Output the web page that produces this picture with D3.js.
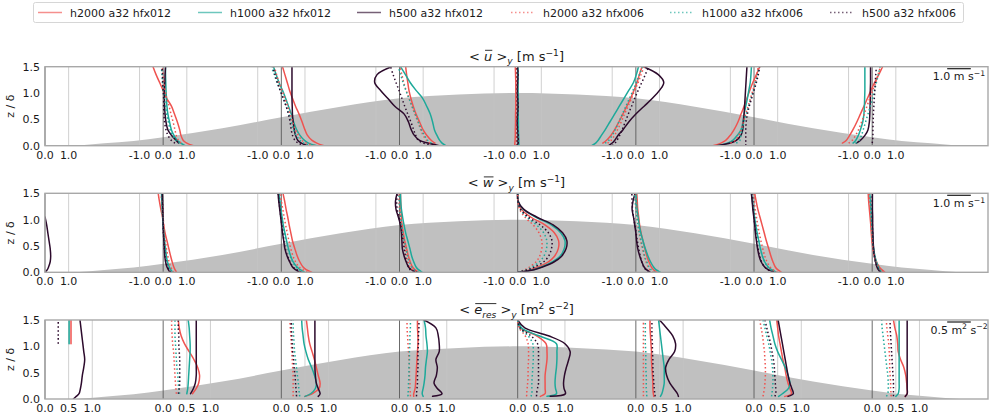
<!DOCTYPE html>
<html><head><meta charset="utf-8">
<script src="https://cdn.jsdelivr.net/npm/d3@7"></script>
<style>body{margin:0;background:#fff}svg text{font-family:"DejaVu Sans",sans-serif;fill:#1a1a1a}</style>
</head><body><svg id="chart" width="990" height="414"></svg>
<script>
// vertical sample levels (z / delta) shared by every profile
const zLevels = [0, 0.05, 0.1, 0.2, 0.3, 0.45, 0.6, 0.75, 0.9, 1.05, 1.2, 1.35, 1.5];
// streamwise station positions (profile origins)
const stations = [-4, -3, -2, -1, 0, 1, 2, 3];
const runNames = ["h2000 a32 hfx012", "h1000 a32 hfx012", "h500 a32 hfx012",
                  "h2000 a32 hfx006", "h1000 a32 hfx006", "h500 a32 hfx006"];
// hill silhouette
const hillX = [-3.74, -3.5, -3.25, -3, -2.5, -2, -1.5, -1, -0.5, 0, 0.5, 1, 1.5, 2, 2.5, 3, 3.25, 3.5, 3.74];
const hillZ = [0, 0.045, 0.09, 0.16, 0.33, 0.54, 0.74, 0.90, 0.97, 1.0, 0.97, 0.90, 0.74, 0.54, 0.33, 0.16, 0.09, 0.045, 0];
const zTicks = [0, 0.5, 1.0, 1.5];
const zTickLabels = ["0.0", "0.5", "1.0", "1.5"];
const velTicks = [-1, 0, 1];
const velTickLabels = ["-1.0", "0.0", "1.0"];
const tkeTicks = [0, 0.5, 1];
const tkeTickLabels = ["0.0", "0.5", "1.0"];
const n = null;

// <u>_y profiles, one row per station, values bottom to top
const u_h2000_012 = [
  [n,n,n,n,n,n,n,n,n,n,n,n,n],
  [1.28,1.0,0.85,0.75,0.7,0.6,0.48,0.35,0.15,0.0,-0.15,-0.3,-0.43],
  [1.8,1.5,1.3,1.1,1.0,0.88,0.75,0.6,0.47,0.35,0.25,0.15,0.05],
  [n,1.5,1.35,1.15,1.0,0.85,0.7,0.58,0.48,0.4,0.35,0.3,0.26],
  [-0.12,-0.12,-0.11,-0.1,-0.1,-0.09,-0.09,-0.08,-0.08,-0.08,-0.08,-0.09,-0.1],
  [n,-1.4,-1.25,-1.05,-0.9,-0.72,-0.55,-0.38,-0.22,-0.08,0.05,0.15,0.26],
  [-1.74,-1.4,-1.2,-1.0,-0.85,-0.68,-0.55,-0.42,-0.3,-0.18,-0.05,0.1,0.24],
  [n,-1.26,-1.1,-0.95,-0.82,-0.65,-0.5,-0.35,-0.2,-0.05,0.1,0.28,0.44]];
const u_h1000_012 = [
  [n,n,n,n,n,n,n,n,n,n,n,n,n],
  [0.92,0.75,0.6,0.45,0.35,0.27,0.2,0.16,0.14,0.12,0.11,0.1,0.1],
  [1.5,1.15,0.98,0.78,0.65,0.52,0.42,0.3,0.18,0.05,-0.1,-0.22,-0.33],
  [1.96,1.8,1.7,1.58,1.48,1.4,1.3,1.15,0.98,0.7,0.45,0.25,0.04],
  [0.05,0.05,0.04,0.04,0.03,0.03,0.02,0.02,0.02,0.01,0.01,0.0,0.0],
  [-1.87,-1.7,-1.6,-1.45,-1.3,-1.1,-0.9,-0.7,-0.5,-0.3,-0.1,0.02,0.11],
  [-1.53,-1.1,-0.9,-0.7,-0.55,-0.47,-0.42,-0.35,-0.28,-0.22,-0.16,-0.13,-0.11],
  [n,-0.81,-0.7,-0.58,-0.5,-0.4,-0.35,-0.33,-0.32,-0.31,-0.31,-0.31,-0.31]];
const u_h500_012 = [
  [n,n,n,n,n,n,n,n,n,n,n,n,n],
  [n,0.65,0.55,0.35,0.2,0.12,0.08,0.06,0.05,0.05,0.07,0.08,0.1],
  [1.1,0.85,0.7,0.6,0.55,0.5,0.47,0.46,0.45,0.45,0.45,0.45,0.45],
  [1.67,1.2,0.85,0.62,0.5,0.38,0.2,-0.2,-0.5,-0.8,-1.05,-0.95,-0.34],
  [0.0,0.02,0.03,0.02,0.0,-0.02,0.0,0.02,0.0,-0.01,0.0,0.02,0.0],
  [-1.15,-1.0,-0.9,-0.75,-0.55,-0.3,0.0,0.35,0.7,1.0,1.18,0.95,0.33],
  [-1.6,-1.0,-0.75,-0.55,-0.48,-0.45,-0.42,-0.4,-0.38,-0.36,-0.34,-0.32,-0.3],
  [n,-0.67,-0.5,-0.3,-0.18,-0.12,-0.1,-0.09,-0.08,-0.08,-0.07,-0.07,-0.07]];
const u_h2000_006 = [
  [n,n,n,n,n,n,n,n,n,n,n,n,n],
  [n,0.75,0.65,0.55,0.5,0.42,0.33,0.25,0.15,0.08,0.03,0.0,-0.05],
  [1.4,1.05,0.88,0.72,0.6,0.48,0.38,0.27,0.15,0.03,-0.1,-0.2,-0.3],
  [n,1.3,1.15,1.0,0.9,0.78,0.65,0.52,0.4,0.28,0.18,0.1,0.02],
  [-0.05,-0.05,-0.05,-0.04,-0.04,-0.04,-0.03,-0.03,-0.03,-0.03,-0.04,-0.04,-0.05],
  [n,-1.2,-1.05,-0.9,-0.78,-0.62,-0.48,-0.33,-0.18,-0.05,0.1,0.22,0.35],
  [n,-1.0,-0.8,-0.65,-0.55,-0.45,-0.35,-0.25,-0.15,-0.05,0.05,0.12,0.18],
  [n,-1.0,-0.85,-0.7,-0.58,-0.45,-0.33,-0.22,-0.1,0.02,0.15,0.25,0.35]];
const u_h1000_006 = [
  [n,n,n,n,n,n,n,n,n,n,n,n,n],
  [n,0.7,0.55,0.4,0.3,0.22,0.15,0.1,0.05,0.0,-0.03,-0.05,-0.08],
  [1.3,0.95,0.8,0.62,0.52,0.42,0.32,0.2,0.08,-0.05,-0.18,-0.3,-0.42],
  [n,1.35,1.2,1.05,0.93,0.8,0.67,0.53,0.4,0.27,0.15,0.05,-0.05],
  [0.02,0.02,0.02,0.02,0.02,0.02,0.01,0.01,0.01,0.01,0.01,0.01,0.01],
  [n,-1.3,-1.15,-1.0,-0.88,-0.72,-0.57,-0.42,-0.27,-0.12,0.02,0.15,0.28],
  [n,-0.75,-0.6,-0.55,-0.5,-0.42,-0.33,-0.23,-0.13,-0.03,0.07,0.15,0.22],
  [n,-0.7,-0.55,-0.45,-0.38,-0.28,-0.18,-0.08,0.02,0.1,0.18,0.26,0.33]];
const u_h500_006 = [
  [n,n,n,n,n,n,n,n,n,n,n,n,n],
  [n,0.5,0.35,0.2,0.12,0.06,0.03,0.02,0.02,0.0,-0.02,-0.03,-0.05],
  [1.0,0.72,0.58,0.47,0.42,0.37,0.3,0.2,0.08,-0.05,-0.17,-0.27,-0.37],
  [1.4,1.0,0.8,0.68,0.6,0.48,0.35,0.22,0.1,-0.02,-0.15,-0.27,-0.38],
  [-0.02,-0.02,-0.02,-0.02,-0.02,-0.02,-0.02,-0.02,-0.02,-0.02,-0.02,-0.02,-0.02],
  [-1.0,-0.88,-0.8,-0.68,-0.58,-0.45,-0.32,-0.18,-0.05,0.1,0.25,0.4,0.54],
  [-0.35,-0.35,-0.35,-0.35,-0.35,-0.33,-0.28,-0.2,-0.1,0.0,0.1,0.18,0.24],
  [n,0.0,0.02,0.03,0.03,0.04,0.05,0.07,0.09,0.11,0.13,0.15,0.18]];

// <w>_y profiles
const w_h2000_012 = [
  [n,n,n,n,n,n,n,n,n,n,n,n,n],
  [0.57,0.5,0.45,0.38,0.32,0.24,0.16,0.08,0.02,-0.03,-0.1,-0.16,-0.21],
  [1.28,1.05,0.92,0.78,0.68,0.57,0.47,0.4,0.33,0.27,0.2,0.14,0.07],
  [0.82,0.65,0.55,0.45,0.38,0.3,0.22,0.16,0.11,0.08,0.06,0.05,0.04],
  [0,0.55,0.85,1.3,1.55,1.72,1.73,1.55,1.15,0.55,0.15,0.01,0],
  [0.89,0.75,0.66,0.55,0.47,0.38,0.3,0.22,0.16,0.12,0.08,0.06,0.04],
  [1.16,1.0,0.9,0.8,0.72,0.62,0.52,0.43,0.34,0.25,0.16,0.09,0.03],
  [0.54,0.4,0.3,0.18,0.1,0.03,-0.01,-0.04,-0.06,-0.09,-0.12,-0.15,-0.17]];
const w_h1000_012 = [
  [n,n,n,n,n,n,n,n,n,n,n,n,n],
  [0.4,0.32,0.26,0.18,0.14,0.1,0.06,0.03,0.0,-0.02,-0.04,-0.06,-0.07],
  [0.99,0.8,0.66,0.5,0.4,0.3,0.22,0.15,0.08,0.03,-0.02,-0.06,-0.1],
  [0.96,0.8,0.7,0.6,0.52,0.44,0.35,0.26,0.19,0.13,0.08,0.05,0.04],
  [0,0.65,1.0,1.48,1.78,1.97,2.0,1.82,1.42,0.75,0.22,0.02,0],
  [1.04,0.85,0.75,0.62,0.52,0.4,0.3,0.21,0.14,0.09,0.05,0.02,0.01],
  [0.95,0.75,0.6,0.45,0.36,0.27,0.2,0.13,0.07,0.02,-0.03,-0.07,-0.11],
  [0.4,0.32,0.26,0.18,0.12,0.06,0.03,0.01,-0.01,-0.04,-0.06,-0.08,-0.1]];
const w_h500_012 = [
  [0,0.1,0.15,0.22,0.24,0.22,0.17,0.12,0.07,0.0,n,n,n],
  [0.28,0.22,0.16,0.1,0.07,0.05,0.03,0.01,0.0,-0.01,-0.02,-0.03,-0.04],
  [0.78,0.6,0.47,0.35,0.25,0.15,0.1,0.05,0.01,-0.03,-0.07,-0.11,-0.14],
  [0.75,0.5,0.38,0.28,0.2,0.12,0.1,0.08,0.04,-0.05,-0.15,-0.17,-0.1],
  [0,0.7,1.05,1.55,1.85,2.05,2.08,1.9,1.5,0.8,0.25,0.02,0],
  [0.61,0.45,0.35,0.25,0.17,0.08,0.03,0.0,-0.05,-0.1,-0.16,-0.12,-0.03],
  [0.88,0.6,0.45,0.3,0.22,0.15,0.1,0.06,0.03,-0.01,-0.05,-0.08,-0.11],
  [0.33,0.26,0.2,0.14,0.1,0.06,0.04,0.03,0.02,0.02,0.01,0.01,0.01]];
const w_h2000_006 = [
  [n,n,n,n,n,n,n,n,n,n,n,n,n],
  [0.45,0.38,0.32,0.25,0.2,0.14,0.09,0.05,0.02,0.0,-0.03,-0.06,-0.09],
  [1.1,0.9,0.75,0.6,0.5,0.4,0.32,0.25,0.18,0.12,0.06,0.0,-0.05],
  [0.7,0.55,0.45,0.36,0.3,0.24,0.17,0.12,0.08,0.04,0.0,-0.02,-0.02],
  [0,0.32,0.5,0.78,0.92,1.02,1.02,0.9,0.65,0.3,0.08,0.01,0],
  [0.75,0.6,0.52,0.43,0.36,0.28,0.2,0.14,0.09,0.05,0.02,0.0,-0.02],
  [1.0,0.8,0.68,0.55,0.46,0.37,0.29,0.22,0.16,0.1,0.05,0.01,-0.03],
  [0.45,0.35,0.27,0.17,0.1,0.04,0.0,-0.02,-0.04,-0.06,-0.08,-0.1,-0.12]];
const w_h1000_006 = [
  [n,n,n,n,n,n,n,n,n,n,n,n,n],
  [0.38,0.3,0.24,0.17,0.12,0.08,0.05,0.02,0.0,-0.02,-0.04,-0.05,-0.06],
  [0.95,0.75,0.62,0.48,0.38,0.28,0.2,0.13,0.07,0.02,-0.03,-0.07,-0.1],
  [0.8,0.62,0.52,0.42,0.35,0.28,0.2,0.14,0.09,0.05,0.01,-0.01,-0.02],
  [0,0.38,0.6,0.92,1.1,1.22,1.23,1.1,0.8,0.38,0.1,0.01,0],
  [0.8,0.65,0.56,0.46,0.38,0.3,0.22,0.15,0.09,0.04,0.0,-0.03,-0.05],
  [0.9,0.7,0.58,0.45,0.36,0.27,0.2,0.14,0.09,0.04,0.0,-0.04,-0.07],
  [0.38,0.3,0.24,0.16,0.1,0.05,0.02,0.0,-0.02,-0.04,-0.05,-0.07,-0.08]];
const w_h500_006 = [
  [n,n,n,n,n,n,n,n,n,n,n,n,n],
  [0.32,0.25,0.18,0.12,0.08,0.05,0.03,0.01,0.0,-0.01,-0.02,-0.03,-0.04],
  [0.85,0.65,0.5,0.37,0.27,0.17,0.11,0.06,0.02,-0.02,-0.06,-0.1,-0.13],
  [0.6,0.45,0.38,0.3,0.25,0.2,0.15,0.1,0.05,-0.02,-0.1,-0.12,-0.08],
  [0,0.45,0.72,1.1,1.3,1.43,1.45,1.3,0.95,0.45,0.12,0.01,0],
  [0.55,0.42,0.34,0.25,0.19,0.12,0.06,0.01,-0.04,-0.1,-0.14,-0.16,-0.17],
  [0.8,0.58,0.45,0.32,0.24,0.17,0.12,0.07,0.03,0.0,-0.03,-0.06,-0.08],
  [0.35,0.27,0.21,0.14,0.09,0.05,0.03,0.02,0.01,0.0,0.0,0.0,0.0]];

// <e_res>_y profiles
const e_h2000_012 = [
  [n,n,n,n,n,n,n,n,n,0.55,0.55,0.55,0.55],
  [n,n,0.62,0.7,0.75,0.77,0.73,0.65,0.55,0.45,0.38,0.34,0.32],
  [n,0.5,0.65,0.8,0.82,0.78,0.74,0.7,0.65,0.6,0.57,0.55,0.53],
  [n,0.3,0.3,0.33,0.34,0.35,0.36,0.37,0.38,0.39,0.39,0.38,0.38],
  [n,0.48,0.58,0.58,0.58,0.58,0.6,0.62,0.62,0.6,0.4,0.06,0],
  [n,0.38,0.37,0.36,0.36,0.35,0.34,0.33,0.33,0.32,0.31,0.3,0.3],
  [n,0.65,0.79,0.76,0.72,0.68,0.65,0.61,0.58,0.55,0.52,0.5,0.48],
  [n,0.7,0.74,0.74,0.73,0.71,0.67,0.6,0.55,0.54,0.52,0.48,0.45]];
const e_h1000_012 = [
  [n,n,n,n,n,n,n,n,n,0.51,0.51,0.51,0.51],
  [n,n,0.5,0.52,0.53,0.54,0.55,0.56,0.57,0.57,0.56,0.55,0.53],
  [n,0.5,0.62,0.72,0.74,0.7,0.64,0.57,0.52,0.48,0.46,0.44,0.43],
  [n,0.5,0.48,0.5,0.52,0.54,0.55,0.57,0.59,0.58,0.56,0.55,0.52],
  [n,0.62,0.82,0.8,0.79,0.8,0.82,0.83,0.83,0.82,0.45,0.08,0],
  [n,0.52,0.55,0.58,0.6,0.6,0.6,0.58,0.56,0.54,0.52,0.5,0.48],
  [n,0.52,0.6,0.73,0.76,0.72,0.66,0.58,0.5,0.44,0.4,0.36,0.33],
  [n,0.5,0.55,0.57,0.57,0.57,0.57,0.57,0.57,0.57,0.57,0.57,0.57]];
const e_h500_012 = [
  [0.6,0.66,0.72,0.75,0.77,0.79,0.82,0.84,0.82,0.8,0.78,0.76,0.74],
  [n,n,0.58,0.64,0.68,0.7,0.7,0.7,0.7,0.7,0.7,0.7,0.7],
  [n,0.78,0.82,0.78,0.74,0.72,0.71,0.71,0.71,0.71,0.71,0.71,0.71],
  [n,0.7,0.9,0.8,0.73,0.78,0.8,0.77,0.84,0.84,0.82,0.77,0.52],
  [n,0.69,1.01,0.98,0.97,0.99,1.03,1.08,1.11,1.0,0.65,0.15,0],
  [n,0.9,0.88,0.8,0.72,0.65,0.63,0.7,0.82,0.84,0.78,0.65,0.5],
  [n,0.72,0.83,0.8,0.76,0.72,0.69,0.66,0.63,0.6,0.57,0.54,0.51],
  [n,0.7,0.74,0.74,0.74,0.74,0.74,0.74,0.74,0.74,0.74,0.74,0.74]];
const e_h2000_006 = [
  [n,n,n,n,n,n,n,n,n,n,n,n,n],
  [n,n,0.28,0.27,0.26,0.25,0.24,0.23,0.22,0.2,0.19,0.18,0.18],
  [n,0.25,0.25,0.25,0.25,0.25,0.24,0.23,0.22,0.21,0.2,0.19,0.18],
  [n,0.23,0.23,0.22,0.22,0.21,0.21,0.2,0.19,0.18,0.17,0.16,0.16],
  [n,0.19,0.19,0.2,0.21,0.22,0.22,0.23,0.23,0.22,0.16,0.03,0],
  [n,0.16,0.16,0.16,0.16,0.16,0.16,0.16,0.16,0.16,0.16,0.16,0.16],
  [n,0.19,0.2,0.22,0.23,0.24,0.24,0.23,0.22,0.2,0.18,0.15,0.12],
  [n,0.4,0.4,0.39,0.39,0.38,0.37,0.37,0.36,0.35,0.33,0.31,0.3]];
const e_h1000_006 = [
  [n,n,n,n,n,n,n,n,n,n,n,n,n],
  [n,n,0.35,0.33,0.32,0.31,0.29,0.28,0.27,0.26,0.25,0.25,0.25],
  [n,0.39,0.38,0.37,0.36,0.34,0.32,0.3,0.28,0.27,0.26,0.25,0.25],
  [n,0.18,0.18,0.19,0.19,0.2,0.2,0.21,0.21,0.22,0.22,0.23,0.23],
  [n,0.28,0.3,0.3,0.3,0.31,0.32,0.33,0.33,0.32,0.22,0.04,0],
  [n,0.23,0.23,0.22,0.22,0.22,0.21,0.21,0.21,0.2,0.2,0.2,0.2],
  [n,0.37,0.38,0.39,0.4,0.4,0.39,0.37,0.34,0.31,0.27,0.23,0.19],
  [n,0.3,0.33,0.34,0.34,0.33,0.31,0.29,0.27,0.25,0.23,0.21,0.2]];
const e_h500_006 = [
  [n,n,n,n,n,n,n,n,n,0.28,0.28,0.28,0.28],
  [n,n,0.32,0.34,0.35,0.35,0.35,0.35,0.34,0.33,0.33,0.32,0.32],
  [n,0.32,0.32,0.31,0.3,0.29,0.27,0.26,0.24,0.23,0.22,0.21,0.21],
  [n,0.36,0.36,0.37,0.38,0.38,0.39,0.39,0.39,0.4,0.4,0.41,0.41],
  [n,0.4,0.4,0.42,0.44,0.44,0.44,0.44,0.44,0.42,0.28,0.05,0],
  [n,0.41,0.4,0.39,0.38,0.37,0.36,0.36,0.35,0.35,0.34,0.34,0.34],
  [n,0.44,0.46,0.46,0.45,0.44,0.43,0.41,0.38,0.35,0.31,0.27,0.23],
  [n,0.45,0.45,0.45,0.45,0.44,0.43,0.42,0.41,0.4,0.39,0.38,0.38]];

const colors = ["#ef5350", "#1ea99a", "#2c0a2c", "#ef5350", "#1ea99a", "#2c0a2c"];
const dashes = [null, null, null, "1.5,2.5", "1.5,2.5", "1.5,2.5"];

const svg = d3.select("#chart");
const axL = 45, axR = 988, axH = 79;
const x = d3.scaleLinear().domain([-4, 3.98]).range([axL, axR]);

const panels = [
  { top: 66.7, factor: 0.2, ticks: velTicks, tickLabels: velTickLabels,
    series: [u_h2000_012, u_h1000_012, u_h500_012, u_h2000_006, u_h1000_006, u_h500_006],
    title: [{t: "< "}, {t: "u", it: 1, ol: 1}, {t: " >"}, {t: "y", it: 1, sub: 1}, {t: " [m s"}, {t: "−1", sup: 1}, {t: "]"}],
    bar: {len: 1.0, parts: [{t: "1.0 m s"}, {t: "−1", sup: 1}]} },
  { top: 193.3, factor: 0.2, ticks: velTicks, tickLabels: velTickLabels,
    series: [w_h2000_012, w_h1000_012, w_h500_012, w_h2000_006, w_h1000_006, w_h500_006],
    title: [{t: "< "}, {t: "w", it: 1, ol: 1}, {t: " >"}, {t: "y", it: 1, sub: 1}, {t: " [m s"}, {t: "−1", sup: 1}, {t: "]"}],
    bar: {len: 1.0, parts: [{t: "1.0 m s"}, {t: "−1", sup: 1}]} },
  { top: 320, factor: 0.4, ticks: tkeTicks, tickLabels: tkeTickLabels,
    series: [e_h2000_012, e_h1000_012, e_h500_012, e_h2000_006, e_h1000_006, e_h500_006],
    title: [{t: "< "}, {t: "e", it: 1, ol: 1}, {t: "res", it: 1, sub: 1, ol: 1}, {t: " >"}, {t: "y", it: 1, sub: 1}, {t: " [m"}, {t: "2", sup: 1}, {t: " s"}, {t: "−2", sup: 1}, {t: "]"}],
    bar: {len: 0.5, parts: [{t: "0.5 m"}, {t: "2", sup: 1}, {t: " s"}, {t: "−2", sup: 1}]} }
];

// rich text with sub/superscripts and optional overlines
function richText(g, parts, px, py, size, anchor) {
  const txt = g.append("text").attr("x", px).attr("y", py)
    .attr("font-size", size).attr("text-anchor", anchor);
  let shift = 0;
  const spans = [];
  parts.forEach(p => {
    const target = p.sub ? size * 0.28 : p.sup ? -size * 0.38 : 0;
    const sp = txt.append("tspan").text(p.t)
      .attr("dy", target - shift)
      .attr("font-size", (p.sub || p.sup) ? size * 0.7 : size)
      .attr("font-style", p.it ? "italic" : "normal");
    shift = target;
    spans.push({sp, p});
  });
  const ol = spans.filter(s => s.p.ol);
  if (ol.length) {
    const first = ol[0].sp.node(), last = ol[ol.length - 1].sp.node();
    const x0 = first.getStartPositionOfChar(0).x;
    const x1 = last.getEndPositionOfChar(last.getNumberOfChars() - 1).x;
    g.append("line").attr("x1", x0 + 1).attr("x2", x1).attr("y1", py - size * 0.8).attr("y2", py - size * 0.8)
      .attr("stroke", "#1a1a1a").attr("stroke-width", 0.9);
  }
  return txt;
}

panels.forEach((P, pi) => {
  const y = d3.scaleLinear().domain([0, 1.5]).range([P.top + axH, P.top]);
  const g = svg.append("g");
  const clipId = "clip" + pi;
  svg.append("clipPath").attr("id", clipId).append("rect")
    .attr("x", axL).attr("y", P.top).attr("width", axR - axL).attr("height", axH);

  // hill
  const area = d3.area().x((d, i) => x(hillX[i])).y0(y(0)).y1(d => y(d)).curve(d3.curveMonotoneX);
  g.append("path").datum(hillZ).attr("d", area).attr("fill", "#c0c0c0").attr("clip-path", `url(#${clipId})`);

  // station grid lines and tick labels
  stations.forEach(s => {
    P.ticks.forEach((t, ti) => {
      const xv = s + P.factor * t;
      if (xv < -4 - 1e-6 || xv > 3.98) return;
      const px = x(xv);
      g.append("line").attr("x1", px).attr("x2", px).attr("y1", P.top).attr("y2", P.top + axH)
        .attr("stroke", t === 0 ? "#5a5a5a" : "#c4c4c4").attr("stroke-width", t === 0 ? 0.9 : 0.8);
      g.append("text").attr("x", px).attr("y", P.top + axH + 13).attr("font-size", 11)
        .attr("text-anchor", "middle").text(P.tickLabels[ti]);
    });
  });

  // profiles
  const line = d3.line()
    .defined(d => d.v !== null)
    .x(d => x(d.s + P.factor * d.v))
    .y(d => y(d.z))
    .curve(d3.curveCatmullRom.alpha(0.5));
  const lg = g.append("g").attr("clip-path", `url(#${clipId})`);
  P.series.forEach((ser, k) => {
    ser.forEach((vals, si) => {
      const pts = vals.map((v, i) => ({v, z: zLevels[i], s: stations[si]}));
      if (pts.every(p => p.v === null)) return;
      lg.append("path").attr("d", line(pts)).attr("fill", "none")
        .attr("stroke", colors[k]).attr("stroke-width", 1.5)
        .attr("stroke-dasharray", dashes[k]).attr("stroke-linecap", dashes[k] ? "butt" : "round");
    });
  });

  // frame
  g.append("rect").attr("x", axL).attr("y", P.top).attr("width", axR - axL).attr("height", axH)
    .attr("fill", "none").attr("stroke", "#a8a8a8").attr("stroke-width", 1.4);

  // y axis
  zTicks.forEach((t, i) => {
    g.append("text").attr("x", 40).attr("y", y(t) + 4).attr("font-size", 11)
      .attr("text-anchor", "end").text(zTickLabels[i]);
  });
  g.append("text").attr("transform", `translate(14,${P.top + axH / 2}) rotate(-90)`)
    .attr("font-size", 11).attr("text-anchor", "middle").text("z / δ");

  // title
  richText(g, P.title, (axL + axR) / 2, P.top - 6, 13, "middle");

  // scale bar
  const barLen = x(P.factor * P.bar.len) - x(0);
  const bcx = 959;
  g.append("line").attr("x1", bcx - barLen / 2).attr("x2", bcx + barLen / 2)
    .attr("y1", P.top + 2).attr("y2", P.top + 2).attr("stroke", "#1a1a1a").attr("stroke-width", 1.2);
  richText(g, P.bar.parts, bcx, P.top + 13.5, 11, "middle");
});

// legend
const leg = svg.append("g");
leg.append("rect").attr("x", 33.5).attr("y", 2.5).attr("width", 930).attr("height", 20).attr("rx", 2)
  .attr("fill", "#fff").attr("stroke", "#d6d6d6").attr("stroke-width", 1);
const legX = [38, 198, 357, 511, 670, 830];
runNames.forEach((name, k) => {
  leg.append("line").attr("x1", legX[k]).attr("x2", legX[k] + 24).attr("y1", 12.5).attr("y2", 12.5)
    .attr("stroke", colors[k]).attr("stroke-width", 1.5).attr("stroke-opacity", 0.65)
    .attr("stroke-dasharray", dashes[k]);
  leg.append("text").attr("x", legX[k] + 32).attr("y", 16.5).attr("font-size", 11).text(name);
});
</script></body></html>
